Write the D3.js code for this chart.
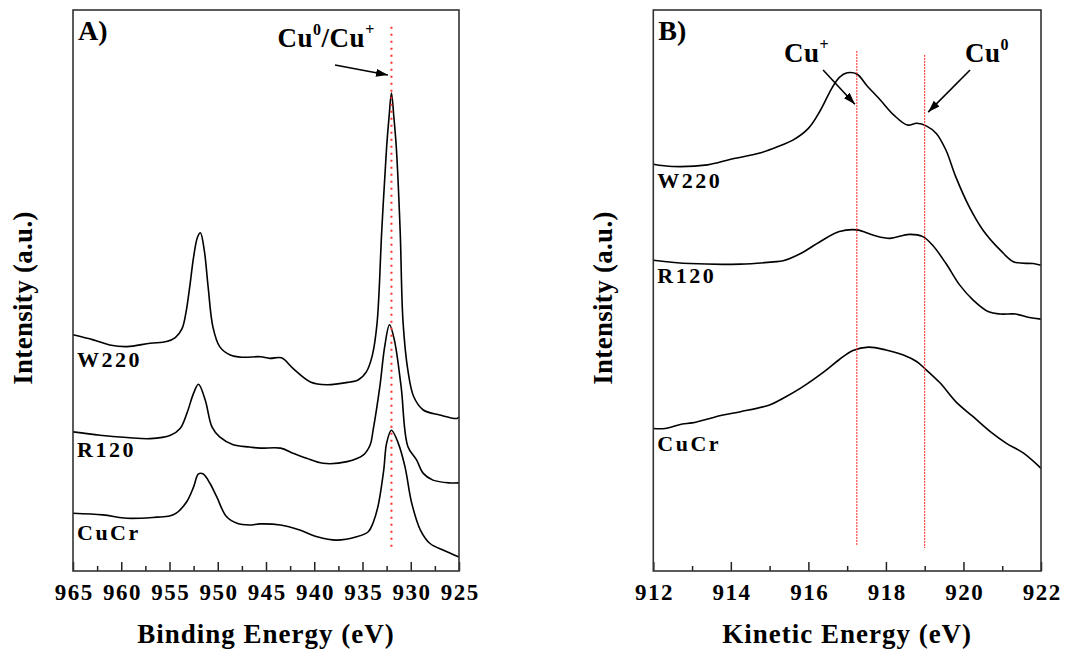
<!DOCTYPE html>
<html><head><meta charset="utf-8">
<script src="https://cdn.jsdelivr.net/npm/d3@7"></script>
<style>
body{margin:0;background:#fff}
text{font-family:"Liberation Serif","Times New Roman",serif;font-weight:bold;fill:#000}
</style>
</head><body>
<svg id="c" width="1067" height="658"></svg>
<script>
// Panel A: Cu 2p XPS, [binding energy (eV), intensity (a.u.)]
const aW220 = [[965.0,42.1],[962.9,41.2],[961.2,40.3],[959.4,40.0],[957.0,40.6],[955.3,40.9],[954.4,41.6],[953.7,43.2],[953.3,46.0],[952.9,50.7],[952.5,56.0],[952.1,59.5],[951.8,60.3],[951.4,57.2],[951.0,50.7],[950.5,43.5],[949.8,40.0],[948.7,38.5],[947.4,38.1],[945.6,38.2],[944.6,37.9],[943.4,38.0],[942.2,36.1],[940.4,33.7],[938.7,33.2],[936.3,33.7],[935.5,34.0],[934.6,35.5],[934.0,38.3],[933.5,44.0],[933.0,60.8],[932.5,75.6],[932.25,80.9],[932.0,85.2],[931.75,80.9],[931.5,75.6],[931.1,60.8],[930.8,44.4],[930.3,35.8],[929.7,31.1],[928.7,28.7],[927.0,27.8],[925.2,27.2],[925.0,27.5]];
const aR120 = [[965.0,24.8],[962.2,24.2],[959.4,23.8],[957.0,23.6],[954.9,24.2],[953.9,25.4],[953.2,28.1],[952.5,31.7],[952.0,33.3],[951.3,30.5],[950.6,25.7],[949.8,23.9],[948.4,22.5],[946.7,22.1],[945.6,21.9],[943.5,21.9],[942.2,21.0],[940.8,20.1],[939.1,19.2],[936.6,19.5],[934.9,20.7],[934.2,22.5],[933.9,25.1],[933.2,32.9],[932.7,40.0],[932.2,43.9],[931.7,41.2],[931.0,32.9],[930.3,22.2],[929.4,19.8],[928.7,17.4],[927.7,16.2],[925.9,15.7],[925.0,15.7]];
const aCuCr = [[965.0,10.3],[961.9,10.0],[959.4,9.4],[956.3,9.6],[955.0,9.8],[954.3,10.3],[953.2,12.4],[952.5,15.0],[952.0,17.3],[951.5,17.3],[950.8,15.6],[950.1,13.2],[949.1,9.7],[948.0,8.5],[946.7,8.2],[945.6,8.4],[943.5,8.2],[941.5,7.3],[939.7,6.1],[937.7,5.5],[935.6,6.1],[934.4,7.0],[933.9,8.6],[933.4,11.5],[932.8,18.0],[932.5,22.8],[932.0,25.1],[931.3,22.8],[930.6,18.6],[929.9,12.1],[929.0,7.3],[928.0,4.9],[926.6,3.7],[925.0,2.5]];

// Panel B: Cu LMM Auger, [kinetic energy (eV), intensity (a.u.)]
const bW220 = [[912.0,72.5],[912.5,72.1],[913.4,72.4],[914.0,73.4],[914.75,74.5],[915.3,75.9],[915.6,76.8],[916.0,78.9],[916.3,82.0],[916.6,86.0],[916.8,88.0],[917.0,88.8],[917.25,88.6],[917.5,86.6],[917.85,84.0],[918.2,81.3],[918.55,79.5],[918.8,79.8],[919.05,79.3],[919.3,78.0],[919.55,75.0],[919.8,70.3],[920.15,64.9],[920.5,60.8],[920.95,57.2],[921.3,55.1],[921.8,54.8],[922.0,54.5]];
const bR120 = [[912.0,55.4],[912.95,54.8],[914.25,54.7],[915.1,55.1],[915.35,55.3],[915.8,56.6],[916.3,58.7],[916.8,60.5],[917.25,60.8],[917.7,59.8],[918.1,59.3],[918.6,60.0],[918.95,59.6],[919.2,58.1],[919.55,54.8],[919.9,51.0],[920.25,48.3],[920.65,46.2],[920.95,45.8],[921.35,45.8],[921.7,45.2],[922.0,44.9]];
const bCuCr = [[912.0,25.4],[912.3,25.4],[912.75,26.2],[913.0,26.4],[913.8,27.8],[914.25,28.4],[915.0,29.6],[915.35,30.8],[915.8,32.6],[916.4,35.5],[916.8,37.7],[917.15,39.3],[917.55,39.9],[918.0,39.4],[918.45,38.5],[918.8,37.3],[919.0,36.1],[919.4,33.5],[919.8,30.2],[920.25,27.5],[920.7,24.8],[921.1,22.8],[921.55,21.0],[922.0,18.3]];

const seriesNames = ["W220","R120","CuCr"];
const labelYA = [36.4, 20.3, 5.5];
const labelYB = [68.3, 51.3, 21.4];

const ticksA = [965,960,955,950,945,940,935,930,925];
const minorA = [962.5,957.5,952.5,947.5,942.5,937.5,932.5,927.5];
const ticksB = [912,914,916,918,920,922];
const minorB = [913,915,917,919,921];

const refLineA = 932.0;
const refLinesB = [917.25, 919.0];

const svg = d3.select("#c");
const H = {top:10, bottom:571};
const yA = d3.scaleLinear().domain([0,100]).range([H.bottom,H.top]);
const xA = d3.scaleLinear().domain([965,925]).range([73,459]);
const xB = d3.scaleLinear().domain([912,922]).range([653.3,1041]);

const defs = svg.append("defs");
defs.append("marker").attr("id","arr").attr("viewBox","0 0 12 8")
  .attr("refX",12).attr("refY",4).attr("markerWidth",12).attr("markerHeight",8)
  .attr("markerUnits","userSpaceOnUse").attr("orient","auto")
  .append("path").attr("d","M0,0 L12,4 L0,8 Z").attr("fill","#000");

function panel(x, data, labelY, ticks, minor, title, letter) {
  const g = svg.append("g");
  const line = d3.line().x(d=>x(d[0])).y(d=>yA(d[1])).curve(d3.curveCatmullRom.alpha(0.5));
  const axMajor = d3.axisBottom(x).tickValues(ticks).tickSize(-9).tickPadding(13).tickFormat(d3.format("d"));
  const gm = g.append("g").attr("transform",`translate(0,${H.bottom})`).call(axMajor);
  gm.select(".domain").remove();
  gm.selectAll("line").attr("stroke","#222").attr("stroke-width",1.5);
  gm.selectAll("text").attr("font-size",23).attr("letter-spacing",1.5).attr("dx",0.75)
    .style("font-family",'"Liberation Serif",serif').style("font-weight","bold");
  const axMinor = d3.axisBottom(x).tickValues(minor).tickSize(-5).tickFormat("");
  const gn = g.append("g").attr("transform",`translate(0,${H.bottom})`).call(axMinor);
  gn.select(".domain").remove();
  gn.selectAll("line").attr("stroke","#222").attr("stroke-width",1.5);
  data.forEach((d,i)=>{
    g.append("path").datum(d).attr("d",line).attr("fill","none").attr("stroke","#000").attr("stroke-width",1.6);
    g.append("text").attr("x",x.range()[0]+4).attr("y",yA(labelY[i])).attr("font-size",22).attr("letter-spacing",2.5).text(seriesNames[i]);
  });
  const [x0,x1] = x.range();
  g.append("rect").attr("x",x0).attr("y",H.top).attr("width",x1-x0).attr("height",H.bottom-H.top)
    .attr("fill","none").attr("stroke","#333").attr("stroke-width",1.6);
  g.append("text").attr("x",(x0+x1)/2).attr("y",643).attr("text-anchor","middle").attr("font-size",27).attr("letter-spacing",1).text(title);
  g.append("text").attr("transform",`translate(${x0-41},298) rotate(-90)`).attr("text-anchor","middle").attr("font-size",27).attr("letter-spacing",0.3).text("Intensity (a.u.)");
  g.append("text").attr("x",x0+5).attr("y",40).attr("font-size",28).text(letter);
  return g;
}

const gA = panel(xA, [aW220,aR120,aCuCr], labelYA, ticksA, minorA, "Binding Energy (eV)", "A)");
const gB = panel(xB, [bW220,bR120,bCuCr], labelYB, ticksB, minorB, "Kinetic Energy (eV)", "B)");

// Panel A annotations
gA.append("line").attr("x1",xA(refLineA)).attr("x2",xA(refLineA)).attr("y1",yA(97)).attr("y2",yA(4.1))
  .attr("stroke","#ff3030").attr("stroke-width",2).attr("stroke-dasharray","2,5");
gA.append("line").attr("x1",xA(937.85)).attr("y1",yA(90.2)).attr("x2",xA(932.36)).attr("y2",yA(88.4))
  .attr("stroke","#000").attr("stroke-width",1.6).attr("marker-end","url(#arr)");
const tA = gA.append("text").attr("x",xA(943.8)).attr("y",yA(93.4)).attr("font-size",27).attr("letter-spacing",0.5);
tA.append("tspan").text("Cu");
tA.append("tspan").attr("font-size",16).attr("dy",-12).text("0");
tA.append("tspan").attr("dy",12).text("/Cu");
tA.append("tspan").attr("font-size",16).attr("dy",-12).text("+");

// Panel B annotations
refLinesB.forEach((v,i)=>{
  gB.append("line").attr("x1",xB(v)).attr("x2",xB(v)).attr("y1",yA(i?92.0:92.7)).attr("y2",yA(i?4.1:4.6))
    .attr("stroke","#ff2020").attr("stroke-width",1).attr("stroke-dasharray","2,1");
});
gB.append("line").attr("x1",xB(916.38)).attr("y1",yA(89.3)).attr("x2",xB(917.2)).attr("y2",yA(83.2))
  .attr("stroke","#000").attr("stroke-width",1.6).attr("marker-end","url(#arr)");
gB.append("line").attr("x1",xB(920.17)).attr("y1",yA(89.3)).attr("x2",xB(919.09)).attr("y2",yA(81.8))
  .attr("stroke","#000").attr("stroke-width",1.6).attr("marker-end","url(#arr)");
const tB1 = gB.append("text").attr("x",xB(915.37)).attr("y",yA(90.7)).attr("font-size",27).attr("letter-spacing",0.5);
tB1.append("tspan").text("Cu");
tB1.append("tspan").attr("font-size",16).attr("dy",-12).text("+");
const tB2 = gB.append("text").attr("x",xB(920.04)).attr("y",yA(90.7)).attr("font-size",27).attr("letter-spacing",0.5);
tB2.append("tspan").text("Cu");
tB2.append("tspan").attr("font-size",16).attr("dy",-12).text("0");
</script>
</body></html>
